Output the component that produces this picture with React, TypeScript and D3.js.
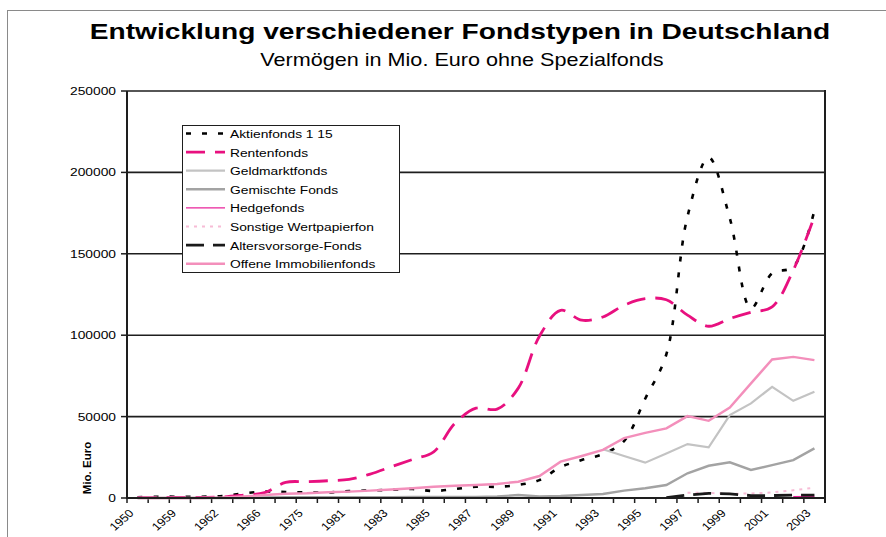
import * as d3 from 'd3'

// categories (only every other one gets a label)
const years = [
  '1950', '1955', '1959', '1960', '1962', '1964', '1966', '1970', '1975', '1980',
  '1981', '1982', '1983', '1984', '1985', '1986', '1987', '1988', '1989', '1990',
  '1991', '1992', '1993', '1994', '1995', '1996', '1997', '1998', '1999', '2000',
  '2001', '2002', '2003',
]

const aktienfonds = [
  500, 800, 800, 800, 1200, 2800, 4000, 3700, 3400, 3400,
  4300, 4600, 5000, 5500, 4300, 5500, 6900, 6900, 8000, 11000,
  19000, 23300, 27000, 35000, 61000, 88300, 173000, 209200, 171800, 116600,
  138000, 142000, 176700,
]
const rentenfonds = [
  200, 300, 400, 400, 600, 1800, 3300, 9600, 10000, 10600,
  11500, 14700, 19200, 23700, 28400, 45800, 55200, 54600, 67500, 99400,
  115300, 109200, 111200, 118400, 122400, 121800, 112300, 105500, 110200, 114100,
  117400, 139900, 173000,
]
const geldmarktfonds = [
  null, null, null, null, null, null, null, null, null, null,
  null, null, null, null, null, null, null, null, null, null,
  null, null, 29900, 25800, 21700, 27300, 33100, 31100, 50900, 58100,
  68300, 59700, 65200,
]
const gemischteFonds = [
  0, 0, 0, 0, 0, 0, 300, 500, 500, 500,
  500, 500, 500, 600, 600, 600, 600, 1000, 1800, 900,
  1200, 1800, 2500, 4500, 6000, 8000, 15200, 19800, 21900, 17200,
  20200, 23300, 30500,
]
const hedgefonds = [
  null, null, null, null, null, null, null, null, null, null,
  null, null, null, null, null, null, null, null, null, null,
  null, null, null, null, null, null, null, null, null, null,
  null, 700, 900,
]
const sonstige = [
  null, null, null, null, null, null, null, null, null, null,
  null, null, null, null, null, null, null, null, null, null,
  null, null, null, null, null, null, 3300, 3100, 2600, 2800,
  3400, 4800, 6300,
]
const altersvorsorge = [
  null, null, null, null, null, null, null, null, null, null,
  null, null, null, null, null, null, null, null, null, null,
  null, null, null, null, null, 200, 1800, 2900, 2500, 1500,
  1500, 1800, 1800,
]
const immobilienfonds = [
  0, 0, 0, 0, 300, 1000, 1800, 2600, 2900, 3500,
  3900, 4500, 5200, 6000, 6900, 7500, 8000, 8600, 10000, 13500,
  22300, 25800, 29600, 36800, 40000, 42800, 50300, 47400, 55600, 70400,
  85100, 86700, 84700,
]

const yTicks = [0, 50000, 100000, 150000, 200000, 250000]

const series = [
  { name: 'Aktienfonds 1 15', values: aktienfonds, color: '#000000', width: 2.6, dash: '5,11', smooth: true },
  { name: 'Rentenfonds', values: rentenfonds, color: '#e8107f', width: 2.8, dash: '19,10', smooth: true },
  { name: 'Geldmarktfonds', values: geldmarktfonds, color: '#c3c3c3', width: 2.2, dash: null, smooth: false },
  { name: 'Gemischte Fonds', values: gemischteFonds, color: '#a3a3a3', width: 2.4, dash: null, smooth: false },
  { name: 'Hedgefonds', values: hedgefonds, color: '#e8239a', width: 1.6, dash: null, smooth: false },
  { name: 'Sonstige Wertpapierfon', values: sonstige, color: '#f7bcd6', width: 2, dash: '3,5', smooth: false },
  { name: 'Altersvorsorge-Fonds', values: altersvorsorge, color: '#1a1a1a', width: 2.8, dash: '18,9', smooth: false },
  { name: 'Offene Immobilienfonds', values: immobilienfonds, color: '#f38fbb', width: 2.4, dash: null, smooth: false },
]

const W = 886
const H = 537
const left = 127
const right = 825
const top = 91
const bottom = 498
const K = 1.2 // the picture is stretched sideways
const FONT = 'Liberation Sans, Arial, sans-serif'

const SText = (props: any) => {
  const { x, y, k = K, anchor = 'start', size, weight = 'normal', rotate, children } = props
  return (
    <text
      transform={`translate(${x},${y}) scale(${k},1)${rotate ? ` rotate(${rotate})` : ''}`}
      textAnchor={anchor}
      fontSize={size}
      fontWeight={weight}
      fontFamily={FONT}
      fill="#000"
    >
      {children}
    </text>
  )
}

export default function App() {
  const x = d3.scaleBand().domain(years).range([left, right]).padding(0)
  const bw = x.bandwidth()
  const cx = (i: number) => (x(years[i]) as number) + bw / 2
  const y = d3.scaleLinear().domain([0, 250000]).range([bottom, top])

  const makeLine = (smooth: boolean) =>
    d3.line<number | null>()
      .defined(d => d != null)
      .x((_d, i) => cx(i))
      .y(d => y(d as number))
      .curve(smooth ? d3.curveCatmullRom : d3.curveLinear)

  const legendX = 182
  const legendY = 125
  const rowH = 18.6

  return (
    <div style={{ position: 'absolute', left: 0, top: 0 }}>
      <svg width={W} height={H} style={{ display: 'block', background: '#fff' }}>
        {/* chart frame */}
        <rect x={7.5} y={10.5} width={W + 20} height={H + 20} fill="none" stroke="#8a8a8a" strokeWidth={1} />

        <SText x={460} y={39} k={1.25} anchor="middle" size={22.5} weight="bold">
          Entwicklung verschiedener Fondstypen in Deutschland
        </SText>
        <SText x={462} y={66} anchor="middle" size={18}>
          Vermögen in Mio. Euro ohne Spezialfonds
        </SText>

        {/* gridlines */}
        {yTicks.map(t => (
          <line key={t} x1={left} x2={right} y1={y(t)} y2={y(t)} stroke="#1e1e1e" strokeWidth={t === 0 ? 2 : 1.6} />
        ))}
        {/* y ticks + labels */}
        {yTicks.map(t => (
          <g key={'yt' + t}>
            <line x1={left - 6} x2={left} y1={y(t)} y2={y(t)} stroke="#1e1e1e" strokeWidth={1.5} />
            <SText x={116} y={y(t) + 4} anchor="end" size={11.5}>{t}</SText>
          </g>
        ))}
        <SText x={91} y={468} k={1} anchor="middle" size={11.5} weight="bold" rotate={-90}>Mio. Euro</SText>

        {/* x ticks + labels */}
        {d3.range(years.length + 1).map(i => (
          <line key={'xt' + i} x1={left + i * bw} x2={left + i * bw} y1={bottom} y2={bottom + 5} stroke="#1e1e1e" strokeWidth={1.5} />
        ))}
        {years.map((yr, i) => i % 2 === 0 ? (
          <text
            key={'xl' + yr}
            transform={`translate(${cx(i) - 3},${bottom + 16}) scale(1.15,1) rotate(-45)`}
            textAnchor="end"
            fontSize={11}
            fontFamily={FONT}
          >
            {yr}
          </text>
        ) : null)}

        {/* series */}
        {series.map(s => (
          <path
            key={s.name}
            d={makeLine(s.smooth)(s.values) || ''}
            fill="none"
            stroke={s.color}
            strokeWidth={s.width}
            strokeDasharray={s.dash || undefined}
          />
        ))}

        {/* axes frame */}
        <line x1={left} x2={left} y1={top} y2={bottom + 1} stroke="#1e1e1e" strokeWidth={2} />
        <line x1={right} x2={right} y1={top - 1} y2={bottom + 5} stroke="#1e1e1e" strokeWidth={2} />
        <line x1={left} x2={right} y1={bottom} y2={bottom} stroke="#1e1e1e" strokeWidth={2} />

        {/* legend */}
        <rect x={legendX + 0.5} y={legendY + 0.5} width={217} height={147} fill="#fff" stroke="#1e1e1e" strokeWidth={1} />
        {series.map((s, i) => {
          const ly = legendY + 8.5 + i * rowH
          return (
            <g key={'lg' + s.name}>
              <line
                x1={legendX + 4}
                x2={legendX + 43}
                y1={ly}
                y2={ly}
                stroke={s.color}
                strokeWidth={s.name === 'Hedgefonds' ? 1.2 : s.width}
                strokeDasharray={s.dash || undefined}
              />
              <SText x={legendX + 48} y={ly + 4.5} size={11.5}>{s.name}</SText>
            </g>
          )
        })}
      </svg>
    </div>
  )
}
